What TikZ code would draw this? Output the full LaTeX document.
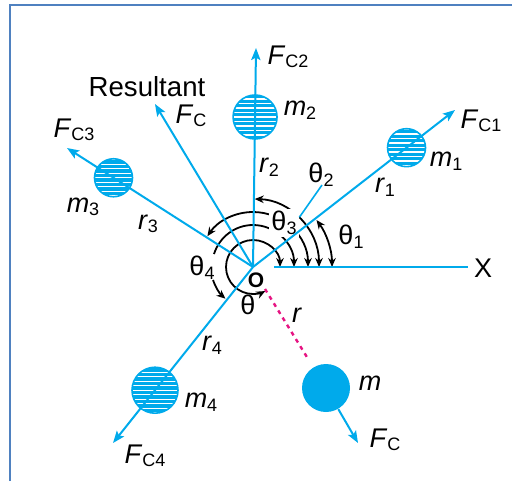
\documentclass[tikz,border=0pt]{standalone}
\usepackage{fontspec}
\setmainfont{Liberation Sans}
\usetikzlibrary{arrows.meta}
\definecolor{cb}{RGB}{0,170,235}
\definecolor{mg}{RGB}{230,20,130}
\definecolor{fr}{RGB}{79,129,192}
\newcommand{\Fsub}[1]{\textit{F}{\fontsize{9}{10}\selectfont\raisebox{-1.4pt}{#1}}}
\newcommand{\lsub}[2]{#1{\fontsize{9}{10}\selectfont\raisebox{-1.8pt}{#2}}}
\begin{document}
\begin{tikzpicture}[x=0.5pt,y=0.5pt,
  vec/.style={cb, line width=1pt, -{Stealth[length=6pt,width=4.6pt,inset=1.2pt]}},
  ln/.style={cb, line width=1pt},
  ang/.style={black, line width=0.9pt},
  angarr/.style={ang, {Stealth[length=4.5pt,width=3.8pt]}-{Stealth[length=4.5pt,width=3.8pt]}},
  angs/.style={ang, {Stealth[length=4.5pt,width=3.8pt]}-},
  ange/.style={ang, -{Stealth[length=4.5pt,width=3.8pt]}},
  lbl/.style={inner sep=0pt, font=\fontsize{13.5}{15}\selectfont},
  hmass/.style={circle, draw=cb, line width=0.8pt, fill=cb, inner sep=0pt,
    path picture={\foreach \k in {-14,...,14}{\draw[white,line width=0.7pt]
      ([yshift=\k*2.25pt]path picture bounding box.west) --
      ([yshift=\k*2.25pt]path picture bounding box.east);}}},
  smass/.style={circle, fill=cb, inner sep=0pt}]
\useasboundingbox (0,0) rectangle (512,-481);
% frame
\draw[fr, line width=1.1pt] (10,-481) -- (10,-5) -- (512,-5);
% key points
\coordinate (C) at (253,-267);
\coordinate (T1) at (455,-110);
\coordinate (T2) at (256,-48);
\coordinate (TR) at (155,-104);
\coordinate (T3) at (67,-148);
\coordinate (T4) at (113,-443);
\coordinate (X0) at (274,-267);
\coordinate (X1) at (468,-267);
\coordinate (R0) at (265,-289);
\coordinate (FT) at (358,-443);
\coordinate (LT) at (322,-185);
% angle arcs
\draw[angarr] ([shift={(0:27)}]C) arc[start angle=0,end angle=297,radius=27];
\draw[angs] ([shift={(0:41)}]C) arc[start angle=0,end angle=162,x radius=41,y radius=42];
\draw[ange] ([shift={(198:42)}]C) arc[start angle=198,end angle=229,radius=42];
\draw[angarr] ([shift={(0:55)}]C) arc[start angle=0,end angle=146,radius=55];
\draw[angarr] ([shift={(0:66)}]C) arc[start angle=0,end angle=88.5,x radius=66,y radius=68];
\draw[angarr] ([shift={(0:79)}]C) arc[start angle=0,end angle=36.5,radius=79];
\node[lbl, fill=white, inner sep=1pt] (lt3) at (284,-223) {\lsub{θ}{3}};
% masses
\path (C) -- (T1) node[hmass, minimum size=19pt, pos=0.76] (m1) {};
\path (C) -- (T2) node[hmass, minimum size=22pt, pos=0.685] (m2) {};
\path (C) -- (T3) node[hmass, minimum size=19pt, pos=0.75] (m3) {};
\path (C) -- (T4) node[hmass, minimum size=23pt, pos=0.70] (m4) {};
\node[smass, minimum size=24pt] (m) at (326,-388) {};
% vectors
\draw[vec] (C) -- (T1);
\draw[vec] (C) -- (T2);
\draw[vec] (C) -- (TR);
\draw[vec] (C) -- (T3);
\draw[vec] (C) -- (T4);
\draw[ln] (X0) -- (X1);
\draw[vec] (m) -- (FT);
\draw[mg, line width=1.2pt, dash pattern=on 2pt off 2.2pt, shorten >=4pt] (R0) -- (m);
\draw[ln, line width=0.8pt] ([shift={(47:68)}]C) -- (LT);
% labels
\node[inner sep=0pt, font=\fontsize{13.8}{16}\selectfont] (res) at (147,-87) {Resultant};
\node[lbl] (lfc) at (191,-116) {\Fsub{C}};
\node[lbl] (lfc2) at (288,-57) {\Fsub{C2}};
\node[lbl] (lm2) at (300,-110) {\lsub{\textit{m}}{2}};
\node[lbl] (lr2) at (269,-167) {\lsub{\textit{r}}{2}};
\node[lbl] (lt2) at (321,-175) {\lsub{θ}{2}};
\node[lbl] (lfc3) at (74,-130) {\Fsub{C3}};
\node[lbl] (lm3) at (83,-207) {\lsub{\textit{m}}{3}};
\node[lbl] (lr3) at (148,-224) {\lsub{\textit{r}}{3}};
\node[lbl] (lfc1) at (481,-121) {\Fsub{C1}};
\node[lbl] (lm1) at (446,-161) {\lsub{\textit{m}}{1}};
\node[lbl] (lr1) at (385,-187) {\lsub{\textit{r}}{1}};
\node[lbl] (lt1) at (351,-237) {\lsub{θ}{1}};
\node[lbl] (lt4) at (202,-268) {\lsub{θ}{4}};
\node[lbl] (lx) at (483,-268) {X};
\node[inner sep=0pt, font=\fontsize{10.5}{11}\selectfont\bfseries] (lo) at (256,-280) {O};
\node[lbl] (lt) at (248,-305) {θ};
\node[lbl] (lr) at (297,-315) {\textit{r}};
\node[lbl] (lr4) at (212,-345) {\lsub{\textit{r}}{4}};
\node[lbl] (lm4) at (201,-402) {\lsub{\textit{m}}{4}};
\node[lbl] (lfc4) at (145,-456) {\Fsub{C4}};
\node[lbl] (lm) at (370,-383) {\textit{m}};
\node[lbl] (lfcb) at (385,-440) {\Fsub{C}};
\end{tikzpicture}
\end{document}
